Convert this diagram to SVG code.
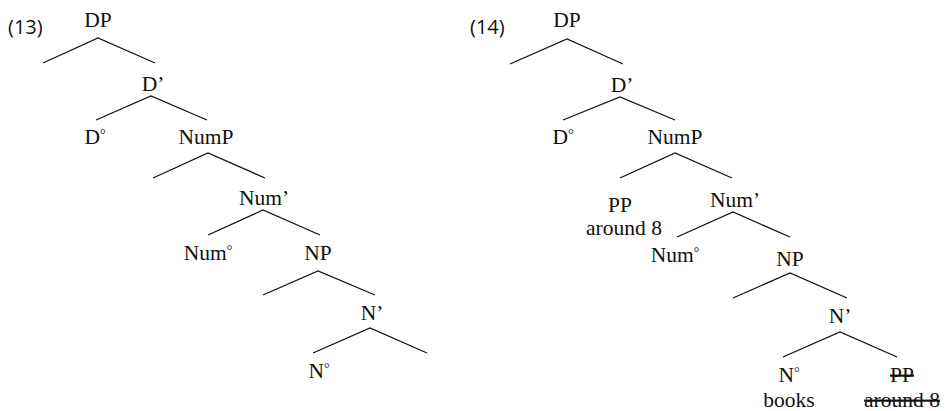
<svg xmlns="http://www.w3.org/2000/svg" width="949" height="411" viewBox="0 0 949 411">
<style>
.lbl{font-family:"Liberation Serif","Times New Roman",serif;font-size:21.5px;fill:#111;text-anchor:middle}
.num{font-family:"Open Sans","Noto Sans",sans-serif;font-size:20px;fill:#111}
.deg{font-size:14px}
.strike{text-decoration:line-through}
#connectors path{stroke:#111;stroke-width:1.3;fill:none}
</style>
<rect width="949" height="411" fill="#fff"/>
<text class="num" x="8" y="34">(13)</text>
<text class="num" x="470" y="34">(14)</text>
<g id="connectors">
<path d="M43,63 L98,38 L155,63"/>
<path d="M96,120 L151,96 L207,120"/>
<path d="M153,178 L208,153 L265,178"/>
<path d="M208,235 L263,210 L320,235"/>
<path d="M263,295 L318,271 L375,295"/>
<path d="M313,353 L370,328 L427,353"/>
<path d="M510,64 L567,39 L623,64"/>
<path d="M563,120 L620,97 L675,120"/>
<path d="M620,178 L675,153 L732,178"/>
<path d="M677,237 L733,212 L790,237"/>
<path d="M733,298 L790,273 L847,298"/>
<path d="M783,357 L840,332 L897,357"/>
</g>
<g id="t13-DP"><text class="lbl" x="98" y="27">DP</text></g>
<g id="t13-Dbar"><text class="lbl" x="153" y="91">D’</text></g>
<g id="t13-D0"><text class="lbl" x="95" y="144">D<tspan class="deg" dy="-5">°</tspan></text></g>
<g id="t13-NumP"><text class="lbl" x="206" y="144">NumP</text></g>
<g id="t13-Numbar"><text class="lbl" x="264" y="205">Num’</text></g>
<g id="t13-Num0"><text class="lbl" x="208" y="260">Num<tspan class="deg" dy="-5">°</tspan></text></g>
<g id="t13-NP"><text class="lbl" x="318" y="260">NP</text></g>
<g id="t13-Nbar"><text class="lbl" x="372" y="320">N’</text></g>
<g id="t13-N0"><text class="lbl" x="319" y="378">N<tspan class="deg" dy="-5">°</tspan></text></g>
<g id="t14-DP"><text class="lbl" x="567" y="27">DP</text></g>
<g id="t14-Dbar"><text class="lbl" x="622" y="92">D’</text></g>
<g id="t14-D0"><text class="lbl" x="563" y="144">D<tspan class="deg" dy="-5">°</tspan></text></g>
<g id="t14-NumP"><text class="lbl" x="675" y="144">NumP</text></g>
<g id="t14-PP"><text class="lbl" x="620" y="212">PP</text><text class="lbl" x="624" y="235">around 8</text></g>
<g id="t14-Numbar"><text class="lbl" x="735" y="207">Num’</text></g>
<g id="t14-Num0"><text class="lbl" x="675" y="262">Num<tspan class="deg" dy="-5">°</tspan></text></g>
<g id="t14-NP"><text class="lbl" x="790" y="266">NP</text></g>
<g id="t14-Nbar"><text class="lbl" x="840" y="323">N’</text></g>
<g id="t14-N0"><text class="lbl" x="789" y="382">N<tspan class="deg" dy="-5">°</tspan></text><text class="lbl" x="789" y="407">books</text></g>
<g id="t14-PPt"><text class="lbl strike" x="902" y="382">PP</text><text class="lbl strike" x="902" y="407">around 8</text></g>
</svg>
